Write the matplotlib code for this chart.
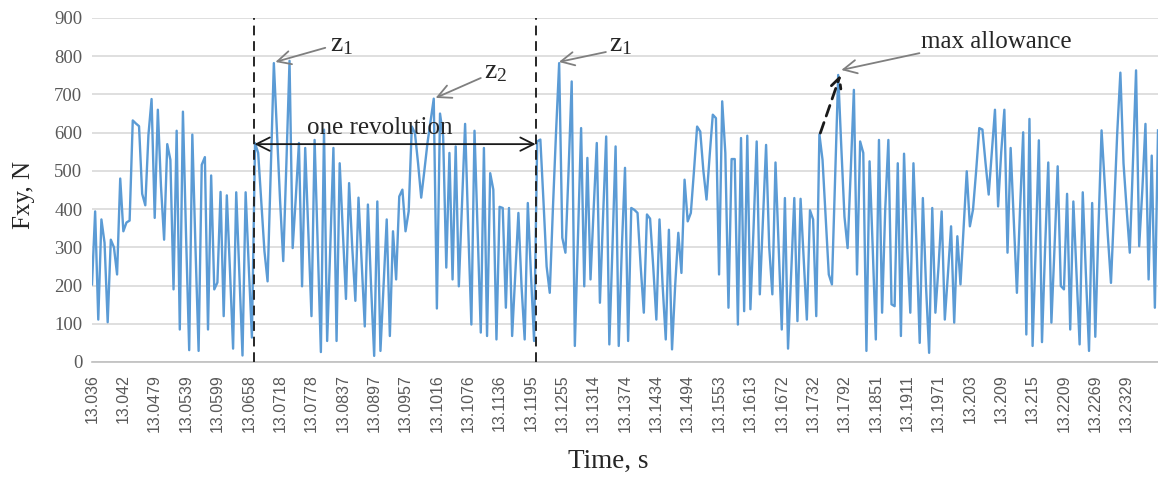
import matplotlib
matplotlib.use("Agg")
import matplotlib.pyplot as plt
import numpy as np

# ---------------- data ----------------
tick_labels = ["13.036", "13.042", "13.0479", "13.0539", "13.0599", "13.0658",
               "13.0718", "13.0778", "13.0837", "13.0897", "13.0957", "13.1016",
               "13.1076", "13.1136", "13.1195", "13.1255", "13.1314", "13.1374",
               "13.1434", "13.1494", "13.1553", "13.1613", "13.1672", "13.1732",
               "13.1792", "13.1851", "13.1911", "13.1971", "13.203", "13.209",
               "13.215", "13.2209", "13.2269", "13.2329"]
label_step = 10  # one time label every 10 samples

fxy = [
    203, 394, 111, 373, 312, 104, 320, 300, 229, 480,
    342, 365, 370, 632, 624, 617, 440, 410, 594, 688,
    377, 660, 460, 320, 570, 529, 190, 605, 85, 655,
    330, 31, 595, 300, 29, 516, 536, 85, 488, 190,
    208, 445, 120, 436, 240, 35, 444, 230, 17, 444,
    250, 64, 573, 547, 420, 290, 211, 500, 782, 600,
    420, 264, 520, 788, 298, 430, 573, 198, 560, 340,
    120, 581, 300, 26, 608, 55, 300, 560, 55, 520,
    340, 165, 468, 300, 160, 430, 260, 93, 412, 200,
    16, 420, 29, 200, 373, 68, 342, 216, 433, 451,
    342, 394, 616, 599, 520, 430, 500, 573, 630, 689,
    140, 650, 590, 247, 547, 216, 564, 198, 410, 623,
    350, 98, 605, 340, 77, 560, 68, 494, 451, 59,
    406, 403, 142, 403, 68, 230, 390, 198, 59, 416,
    230, 55, 577, 582, 420, 250, 181, 400, 600, 782,
    325, 286, 500, 734, 42, 330, 612, 198, 534, 216,
    400, 573, 155, 380, 590, 46, 300, 564, 42, 300,
    508, 55, 403, 398, 390, 250, 129, 386, 375, 250,
    111, 373, 200, 59, 346, 33, 200, 338, 233, 477,
    368, 390, 500, 616, 603, 500, 425, 540, 647, 638,
    229, 682, 547, 142, 531, 531, 98, 586, 133, 592,
    138, 350, 577, 177, 370, 568, 300, 177, 522, 300,
    85, 429, 35, 230, 429, 107, 427, 270, 111, 397,
    373, 120, 596, 529, 380, 229, 203, 480, 751, 560,
    380, 298, 500, 712, 229, 577, 547, 29, 525, 300,
    59, 581, 129, 400, 581, 151, 146, 520, 68, 545,
    300, 129, 520, 300, 50, 429, 200, 24, 403, 129,
    250, 394, 111, 230, 355, 103, 329, 203, 350, 499,
    355, 399, 500, 612, 608, 520, 438, 550, 660, 407,
    550, 660, 286, 560, 370, 181, 400, 601, 72, 636,
    42, 300, 580, 52, 300, 522, 103, 300, 512, 199,
    190, 440, 85, 420, 230, 46, 444, 230, 29, 416,
    66, 350, 606, 470, 330, 207, 400, 600, 757, 520,
    400, 286, 520, 763, 303, 450, 623, 216, 540, 142,
    606,
]

# ---------------- styling ----------------
plt.rcParams['mathtext.fontset'] = 'custom'
plt.rcParams['mathtext.rm'] = 'Liberation Serif'
plt.rcParams['mathtext.it'] = 'Liberation Serif:italic'

SERIF = 'Liberation Serif'
SANS = 'Liberation Sans'
W, H = 1158, 478

fig = plt.figure(figsize=(W / 100, H / 100), dpi=100)
ax = fig.add_axes([92 / W, 1 - 362 / H, (1158 - 92) / W, (362 - 18) / H])

x = np.arange(len(fxy))
ax.plot(x, fxy, color='#5B9BD5', lw=1.7, zorder=3, solid_joinstyle='round')

ax.set_xlim(0, len(fxy) - 1)
ax.set_ylim(0, 900)
ax.set_yticks(np.arange(0, 901, 100))
ax.grid(axis='y', color='#D9D9D9', lw=1.2)
ax.set_axisbelow(True)
for s in ['top', 'right', 'left']:
    ax.spines[s].set_visible(False)
ax.spines['bottom'].set_color('#BFBFBF')
ax.spines['bottom'].set_linewidth(1.2)

tick_pos = np.arange(len(tick_labels)) * label_step
ax.set_xticks(tick_pos)
ax.set_xticklabels(tick_labels, rotation=90, fontsize=11.5, family=SANS,
                   color='#595959')
ax.tick_params(axis='x', length=0, pad=9)
ax.tick_params(axis='y', length=0, pad=7, labelsize=13.5, labelcolor='#595959')
for t in ax.get_yticklabels():
    t.set_family(SERIF)

fig.text(24 / W, 1 - 195 / H, 'Fxy, N', rotation=90, ha='center', va='center',
         fontsize=18, family=SERIF, color='#262626')
fig.text(608 / W, 1 - 461 / H, 'Time, s', ha='center', va='center',
         fontsize=19.5, family=SERIF, color='#262626')

# ---------------- annotations ----------------
rev_start, rev_end = 51.8, 141.5
for xv in (rev_start, rev_end):
    ax.axvline(xv, color='#262626', lw=1.4, ls=(0, (5, 3)), zorder=4)

ax.annotate('', xy=(rev_end, 570), xytext=(rev_start, 570),
            arrowprops=dict(arrowstyle='<->', color='#1a1a1a', lw=1.3,
                            mutation_scale=24, shrinkA=0, shrinkB=0), zorder=5)
ax.text(91.7, 612, 'one revolution', ha='center', va='center', fontsize=18,
        family=SERIF, color='#262626', zorder=5)

gray_arrow = dict(arrowstyle='->', color='#7F7F7F', lw=1.3, mutation_scale=24,
                  shrinkA=0, shrinkB=0)
ax.annotate('', xy=(58.5, 785), xytext=(74.4, 822), arrowprops=gray_arrow)
ax.text(76.0, 830, r'z$_1$', ha='left', va='center', fontsize=20, family=SERIF,
        color='#262626')
ax.annotate('', xy=(109.6, 691), xytext=(124.0, 743), arrowprops=gray_arrow)
ax.text(125.0, 760, r'z$_2$', ha='left', va='center', fontsize=20, family=SERIF,
        color='#262626')
ax.annotate('', xy=(148.9, 785), xytext=(163.9, 811), arrowprops=gray_arrow)
ax.text(165.0, 830, r'z$_1$', ha='left', va='center', fontsize=20, family=SERIF,
        color='#262626')
ax.annotate('', xy=(239.0, 764), xytext=(263.9, 808), arrowprops=gray_arrow)
ax.text(264.5, 838, 'max allowance', ha='left', va='center', fontsize=18,
        family=SERIF, color='#262626')

ax.annotate('', xy=(238.7, 751), xytext=(232.3, 599),
            arrowprops=dict(arrowstyle='->', color='#1a1a1a', lw=2.0,
                            ls=(0, (4, 2.5)), mutation_scale=18,
                            shrinkA=0, shrinkB=0), zorder=5)

fig.savefig('out.png', dpi=100)
